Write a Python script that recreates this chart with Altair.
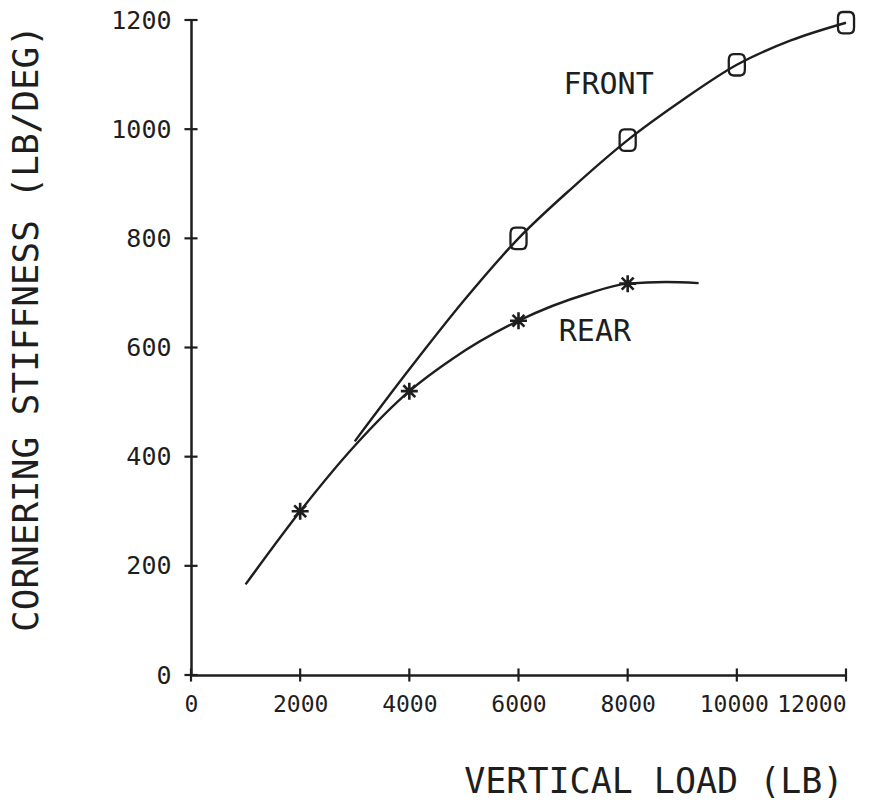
import altair as alt
import pandas as pd

# ---- data ----
front_curve_x = [3000, 4000, 5000, 6000, 7000, 8000, 9000, 10000, 11000, 12000]
front_curve_y = [428, 560, 686, 800, 894, 980, 1053, 1118, 1163, 1195]
rear_curve_x = [1000, 2000, 3000, 4000, 4800, 6000, 7250, 8000, 8700, 9300]
rear_curve_y = [166, 300, 420, 520, 580, 649, 698, 717, 720, 718]

front_pts_x = [6000, 8000, 10000, 12000]
front_pts_y = [800, 980, 1118, 1195]
rear_pts_x = [2000, 4000, 6000, 8000]
rear_pts_y = [300, 520, 649, 717]

label_text = ["FRONT", "REAR"]
label_x = [7650, 7400]
label_y = [1065, 612]

x_ticks = [0, 2000, 4000, 6000, 8000, 10000, 12000]
y_ticks = [0, 200, 400, 600, 800, 1000, 1200]

INK = "#1e1e1e"
FONT = "DejaVu Sans Mono"

curves = pd.concat([
    pd.DataFrame({"x": front_curve_x, "y": front_curve_y, "s": "front"}),
    pd.DataFrame({"x": rear_curve_x, "y": rear_curve_y, "s": "rear"}),
])
front_pts = pd.DataFrame({"x": front_pts_x, "y": front_pts_y})
rear_pts = pd.DataFrame({"x": rear_pts_x, "y": rear_pts_y})
labels = pd.DataFrame({"t": label_text, "x": label_x, "y": label_y})
xt = pd.DataFrame({"v": x_ticks})
yt = pd.DataFrame({"v": y_ticks})

xs = alt.Scale(domain=[0, 12000], nice=False, zero=False)
ys = alt.Scale(domain=[0, 1200], nice=False, zero=False)

x_axis = alt.Axis(
    title="VERTICAL LOAD (LB)", values=x_ticks, format="d", grid=False,
    ticks=False, tickSize=0, domain=True, domainColor=INK, domainWidth=2.5,
    labelFont=FONT, labelFontSize=23, labelColor=INK, labelPadding=18,
    labelFlush=False, labelOverlap=False,
    labelAlign=alt.expr("datum.value == 12000 ? 'right' : 'center'"),
    labelOffset=alt.expr("datum.value == 10000 ? -3 : 0"),
    titleFont=FONT, titleFontSize=35, titleFontWeight="normal", titleColor=INK,
    titleX=652, titleY=117, titleAlign="right", titleBaseline="alphabetic",
)
y_axis = alt.Axis(
    title="CORNERING STIFFNESS (LB/DEG)", values=y_ticks, format="d", grid=False,
    ticks=False, tickSize=0, domain=True, domainColor=INK, domainWidth=2.5,
    labelFont=FONT, labelFontSize=25, labelColor=INK, labelPadding=20,
    labelOverlap=False, labelFlush=False, labelBaseline="middle",
    titleFont=FONT, titleFontSize=36, titleFontWeight="normal", titleColor=INK,
    titleAngle=270, titleX=-154, titleY=308, titleAlign="center",
    titleBaseline="alphabetic",
)

X = lambda f: alt.X(f, scale=xs, axis=x_axis, title="VERTICAL LOAD (LB)")
Y = lambda f: alt.Y(f, scale=ys, axis=y_axis, title="CORNERING STIFFNESS (LB/DEG)")

lines = alt.Chart(curves).mark_line(
    interpolate="monotone", strokeWidth=2.4, color=INK
).encode(x=X("x:Q"), y=Y("y:Q"), detail="s:N")

rrect = ("M -0.75,-0.45 Q -0.75,-1 -0.3,-1 L 0.3,-1 Q 0.75,-1 0.75,-0.45 "
         "L 0.75,0.45 Q 0.75,1 0.3,1 L -0.3,1 Q -0.75,1 -0.75,0.45 Z")
star = ("M -1,0 L 1,0 M 0,-1 L 0,1 M -0.7,-0.7 L 0.7,0.7 "
        "M -0.7,0.7 L 0.7,-0.7")

front_marks = alt.Chart(front_pts).mark_point(
    shape=rrect, size=460, filled=False, strokeWidth=2.3, color=INK, opacity=1
).encode(x=X("x:Q"), y=Y("y:Q"))

rear_marks = alt.Chart(rear_pts).mark_point(
    shape=star, size=289, filled=False, strokeWidth=2.6, color=INK, opacity=1
).encode(x=X("x:Q"), y=Y("y:Q"))

texts = alt.Chart(labels).mark_text(
    font=FONT, fontSize=30, color=INK, align="center", baseline="alphabetic"
).encode(x=X("x:Q"), y=Y("y:Q"), text="t:N")

# crossing tick marks (the plotter draws ticks through the axis line)
xticks = alt.Chart(xt).transform_calculate(lo="-12", hi="12").mark_rule(
    strokeWidth=2.2, color=INK
).encode(x=X("v:Q"), y=Y("lo:Q"), y2="hi:Q")
yticks = alt.Chart(yt).transform_calculate(lo="-120", hi="120").mark_rule(
    strokeWidth=2.2, color=INK
).encode(y=Y("v:Q"), x=X("lo:Q"), x2="hi:Q")

chart = alt.layer(lines, xticks, yticks, front_marks, rear_marks, texts).properties(
    width=655, height=655,
    autosize="none",
    padding={"left": 191, "top": 20, "right": 46, "bottom": 128},
    background="white",
).configure_view(stroke=None)

chart.save("out.html", embed_options={"renderer": "svg", "actions": False})
